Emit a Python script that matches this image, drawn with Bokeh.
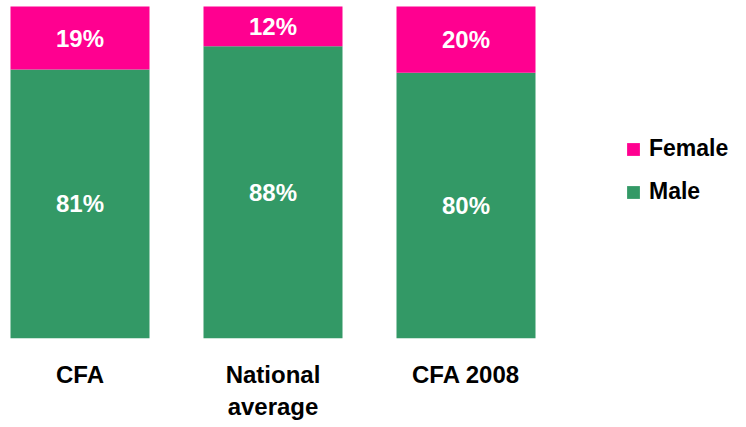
from bokeh.plotting import figure
from bokeh.models import ColumnDataSource, Range1d, Legend, LegendItem
from bokeh.core.properties import value
from bokeh.embed import file_html
from bokeh.resources import INLINE

categories = ["CFA", "National\naverage", "CFA 2008"]
male = [81, 88, 80]
female = [19, 12, 20]

PINK = "#FF0090"
GREEN = "#339966"
FONT = "Liberation Sans"

W, H = 746, 427
px_per_x = 193.0
x0_px = 79.5
y_top_px = 6.0
y_px_per_unit = 331.7

xs = list(range(len(categories)))
src = ColumnDataSource(dict(
    x=xs,
    male=[m / 100 for m in male],
    total=[(m + f) / 100 for m, f in zip(male, female)],
    male_mid=[m / 200 for m in male],
    fem_mid=[(m + (m + f)) / 200 for m, f in zip(male, female)],
    male_lbl=[f"{m}%" for m in male],
    fem_lbl=[f"{f}%" for f in female],
    cat=categories,
))

x_start = -x0_px / px_per_x
y_end = 1.0 + y_top_px / y_px_per_unit
y_start = y_end - H / y_px_per_unit

def to_y(page_px):
    return y_end - page_px / y_px_per_unit

p = figure(width=W, height=H, output_backend="svg", toolbar_location=None,
           x_range=Range1d(x_start, x_start + W / px_per_x),
           y_range=Range1d(y_start, y_end),
           x_axis_type=None, y_axis_type=None, min_border=0)
p.outline_line_color = None
p.xgrid.visible = False
p.ygrid.visible = False

bw = 139 / px_per_x
r_male = p.vbar(x="x", bottom=0, top="male", width=bw, source=src,
                fill_color=GREEN, line_color=None)
r_fem = p.vbar(x="x", bottom="male", top="total", width=bw, source=src,
               fill_color=PINK, line_color=None)

p.text(x="x", y="male_mid", text="male_lbl", source=src, text_color="white",
       text_font=value(FONT), text_font_style="bold", text_font_size="24px",
       text_align="center", text_baseline="middle")
p.text(x="x", y="fem_mid", text="fem_lbl", source=src, text_color="white",
       text_font=value(FONT), text_font_style="bold", text_font_size="24px",
       text_align="center", text_baseline="middle")

p.text(x="x", y=to_y(360.5), text="cat", source=src, text_color="black",
       text_font=value(FONT), text_font_style="bold", text_font_size="24px",
       text_align="center", text_baseline="top", text_line_height=1.17)

legend = Legend(items=[LegendItem(label="Female", renderers=[r_fem]),
                       LegendItem(label="Male", renderers=[r_male])],
                location=(625, 222), padding=0, margin=0, spacing=16,
                glyph_width=16, glyph_height=16, label_height=26,
                label_standoff=8, border_line_color=None,
                background_fill_alpha=0,
                label_text_font=FONT, label_text_font_style="bold",
                label_text_font_size="23px", label_text_color="black")
p.add_layout(legend, "center")

open("out.html", "w").write(file_html(p, INLINE))
